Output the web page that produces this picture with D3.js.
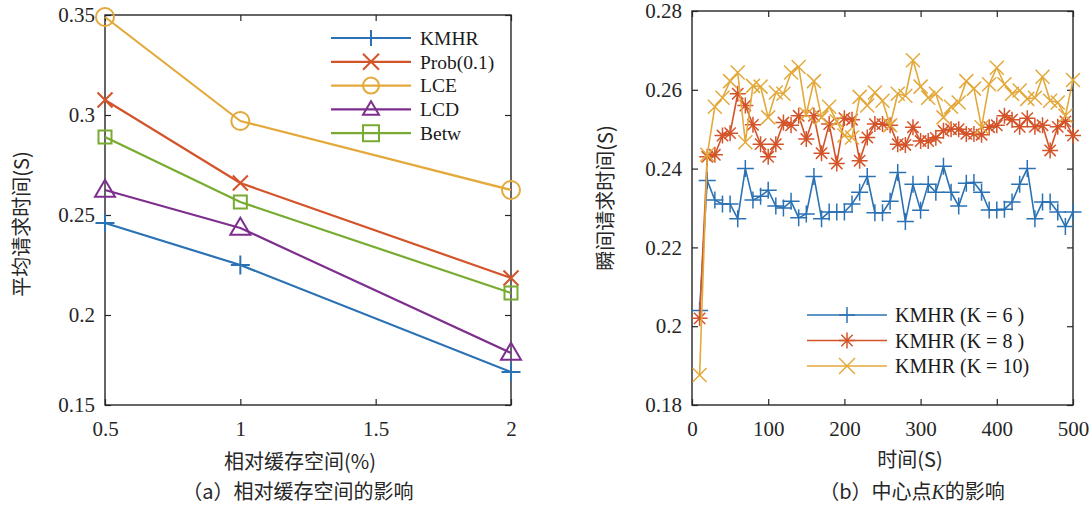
<!DOCTYPE html>
<html>
<head>
<meta charset="utf-8">
<script src="https://cdn.jsdelivr.net/npm/d3@7"></script>
<style>
  body { margin: 0; background: #fff; }
  svg { display: block; }
  .cjk { font-family: "Noto Sans CJK SC", sans-serif; fill: #262626; }
</style>
</head>
<body>
<svg id="fig" width="1090" height="506"></svg>
<script>
// ---- data (a) ----
const cacheSpace = [0.5, 1, 2];
const kmhrA = [0.246, 0.225, 0.1715];
const probA = [0.3075, 0.266, 0.2185];
const lceA  = [0.349, 0.297, 0.2625];
const lcdA  = [0.2625, 0.2435, 0.181];
const betwA = [0.289, 0.2565, 0.211];
const namesA = ["KMHR", "Prob(0.1)", "LCE", "LCD", "Betw"];
const xTicksA = [0.5, 1, 1.5, 2];
const xTickLabelsA = ["0.5", "1", "1.5", "2"];
const yTicksA = [0.155, 0.2, 0.25, 0.3, 0.35];
const yTickLabelsA = ["0.15", "0.2", "0.25", "0.3", "0.35"];

// ---- data (b) ----
const times = [10,20,30,40,50,60,70,80,90,100,110,120,130,140,150,160,170,180,190,200,
  210,220,230,240,250,260,270,280,290,300,310,320,330,340,350,360,370,380,390,400,
  410,420,430,440,450,460,470,480,490,500];
const k6 = [0.204,0.237,0.232,0.231,0.231,0.2273,0.240,0.232,0.233,0.2345,
  0.2305,0.230,0.2317,0.2275,0.2285,0.238,0.2273,0.229,0.229,0.229,
  0.231,0.234,0.238,0.2288,0.2288,0.2317,0.239,0.2266,0.236,0.2294,
  0.236,0.234,0.2406,0.234,0.2305,0.2363,0.2365,0.234,0.2295,0.2295,
  0.2297,0.2315,0.236,0.240,0.2273,0.2315,0.2315,0.229,0.2253,0.229];
const k8 = [0.202,0.243,0.2435,0.2484,0.249,0.259,0.256,0.2511,0.2462,0.243,
  0.2462,0.2517,0.251,0.2534,0.2475,0.2534,0.2439,0.2513,0.2413,0.2528,
  0.2524,0.242,0.2479,0.2513,0.2513,0.251,0.2462,0.246,0.2505,0.247,
  0.247,0.2478,0.2496,0.25,0.25,0.2488,0.2488,0.2486,0.2505,0.251,
  0.2534,0.2524,0.2506,0.2528,0.2506,0.251,0.2446,0.2506,0.252,0.2484];
const k10 = [0.1876,0.2435,0.2557,0.258,0.2622,0.2644,0.2467,0.261,0.2608,0.253,
  0.2593,0.259,0.2644,0.2658,0.2538,0.2622,0.253,0.2557,0.252,0.2484,
  0.2479,0.2582,0.256,0.2593,0.2572,0.251,0.259,0.2585,0.2675,0.2608,
  0.258,0.259,0.253,0.2557,0.2568,0.2622,0.2603,0.2505,0.2614,0.2656,
  0.2614,0.259,0.2598,0.2577,0.258,0.2633,0.2572,0.2568,0.2534,0.2625];
const namesB = ["KMHR (K = 6 )", "KMHR (K = 8 )", "KMHR (K = 10)"];
const xTicksB = [0, 100, 200, 300, 400, 500];
const yTicksB = [0.18, 0.2, 0.22, 0.24, 0.26, 0.28];
const yTickLabelsB = ["0.18", "0.2", "0.22", "0.24", "0.26", "0.28"];

const BLUE = "#2b72b4", ORANGE = "#d4542a", YELLOW = "#e3a93b", PURPLE = "#7e2f8e", GREEN = "#77ac30";
const FRAME = "#262626";
const SERIF = "'Liberation Serif', 'DejaVu Serif', serif";

// marker shapes as path strings, s = full size
const markers = {
  plus: s => `M${-s/2},0H${s/2}M0,${-s/2}V${s/2}`,
  cross: s => `M${-s/2},${-s/2}L${s/2},${s/2}M${-s/2},${s/2}L${s/2},${-s/2}`,
  star: s => { const a = s/2, b = a*0.707; return `M${-a},0H${a}M0,${-a}V${a}M${-b},${-b}L${b},${b}M${-b},${b}L${b},${-b}`; },
  circle: s => d3.symbol(d3.symbolCircle, Math.PI*(s/2)*(s/2))(),
  square: s => `M${-s/2},${-s/2}h${s}v${s}h${-s}Z`,
  triangle: s => { const h = s*0.85; return `M0,${-h*0.6}L${s/2},${h*0.4}L${-s/2},${h*0.4}Z`; }
};

const svg = d3.select("#fig");
svg.append("rect").attr("width", 1090).attr("height", 506).attr("fill", "#fff");

function styleTicks(a, fontSize) {
  a.select(".domain").remove();
  a.attr("font-family", null);
  a.selectAll("text").style("font-family", SERIF).style("font-size", fontSize + "px").attr("fill", "#262626");
}

function frameAxes(g, x, y, xTicks, xLabels, yTicks, yLabels, fontSize) {
  const [x0, x1] = x.range(), [y0, y1] = y.range();
  const tl = 6;
  g.append("g").attr("transform", `translate(0,${y0})`)
    .call(d3.axisBottom(x).tickValues(xTicks).tickSize(-tl).tickPadding(16)
      .tickFormat((d, i) => xLabels[i]))
    .call(a => styleTicks(a, fontSize));
  g.append("g").attr("transform", `translate(0,${y1})`)
    .call(d3.axisTop(x).tickValues(xTicks).tickSize(-tl).tickFormat(""))
    .call(a => a.select(".domain").remove());
  g.append("g").attr("transform", `translate(${x0},0)`)
    .call(d3.axisLeft(y).tickValues(yTicks).tickSize(-tl).tickPadding(10)
      .tickFormat((d, i) => yLabels[i]))
    .call(a => styleTicks(a, fontSize));
  g.append("g").attr("transform", `translate(${x1},0)`)
    .call(d3.axisRight(y).tickValues(yTicks).tickSize(-tl).tickFormat(""))
    .call(a => a.select(".domain").remove());
  g.selectAll(".tick line").attr("stroke", FRAME).attr("stroke-width", 1.2);
  g.append("rect").attr("x", x0).attr("y", y1).attr("width", x1 - x0).attr("height", y0 - y1)
    .attr("fill", "none").attr("stroke", FRAME).attr("stroke-width", 1.4);
}

function drawSeries(g, x, y, xs, ys, color, shape, size, lw, mlw) {
  const line = d3.line().x((d, i) => x(xs[i])).y(d => y(d));
  g.append("path").datum(ys).attr("d", line).attr("fill", "none")
    .attr("stroke", color).attr("stroke-width", lw).attr("stroke-linejoin", "round");
  g.selectAll(null).data(ys).join("path")
    .attr("transform", (d, i) => `translate(${x(xs[i])},${y(d)})`)
    .attr("d", markers[shape](size))
    .attr("fill", "none").attr("stroke", color).attr("stroke-width", mlw);
}

function legend(g, items, x0, x1, xt, y0, dy, fontSize, size, lw, mlw) {
  items.forEach((it, i) => {
    const yy = y0 + i * dy;
    g.append("line").attr("x1", x0).attr("x2", x1).attr("y1", yy).attr("y2", yy)
      .attr("stroke", it.color).attr("stroke-width", lw);
    g.append("path").attr("transform", `translate(${(x0 + x1) / 2},${yy})`)
      .attr("d", markers[it.shape](size)).attr("fill", "none")
      .attr("stroke", it.color).attr("stroke-width", mlw);
    g.append("text").attr("x", xt).attr("y", yy).attr("dy", "0.35em")
      .style("font-family", SERIF).style("font-size", fontSize + "px")
      .attr("fill", "#1a1a1a").text(it.name);
  });
}

// ---- panel (a) ----
const gA = svg.append("g");
const xA = d3.scaleLinear().domain([0.5, 2]).range([105, 511]);
const yA = d3.scaleLinear().domain([0.155, 0.35]).range([405, 15]);
frameAxes(gA, xA, yA, xTicksA, xTickLabelsA, yTicksA, yTickLabelsA, 21);
const seriesA = [
  { name: namesA[0], ys: kmhrA, color: BLUE,   shape: "plus",     size: 19 },
  { name: namesA[1], ys: probA, color: ORANGE, shape: "cross",    size: 15 },
  { name: namesA[2], ys: lceA,  color: YELLOW, shape: "circle",   size: 18 },
  { name: namesA[3], ys: lcdA,  color: PURPLE, shape: "triangle", size: 20 },
  { name: namesA[4], ys: betwA, color: GREEN,  shape: "square",   size: 13 }
];
seriesA.forEach(s => drawSeries(gA, xA, yA, cacheSpace, s.ys, s.color, s.shape, s.size, 2.2, 2));
legend(gA, seriesA, 331, 411, 420, 38, 23.8, 19.5, 16, 2.2, 2);

gA.append("text").attr("class", "cjk").attr("x", 300).attr("y", 469)
  .attr("text-anchor", "middle").style("font-size", "20px").text("相对缓存空间(%)");
gA.append("text").attr("class", "cjk").attr("x", 298).attr("y", 499)
  .attr("text-anchor", "middle").style("font-size", "20px").text("（a）相对缓存空间的影响");
gA.append("text").attr("class", "cjk")
  .attr("transform", "translate(29,224) rotate(-90)")
  .attr("text-anchor", "middle").style("font-size", "20px").text("平均请求时间(S)");

// ---- panel (b) ----
const gB = svg.append("g");
const xB = d3.scaleLinear().domain([0, 500]).range([692, 1073]);
const yB = d3.scaleLinear().domain([0.18, 0.28]).range([405, 11]);
frameAxes(gB, xB, yB, xTicksB, xTicksB.map(String), yTicksB, yTickLabelsB, 21);
const seriesB = [
  { name: namesB[0], ys: k6,  color: BLUE,   shape: "plus",  size: 17 },
  { name: namesB[1], ys: k8,  color: ORANGE, shape: "star",  size: 16 },
  { name: namesB[2], ys: k10, color: YELLOW, shape: "cross", size: 14 }
];
seriesB.forEach(s => drawSeries(gB, xB, yB, times, s.ys, s.color, s.shape, s.size, 1.6, 1.5));
legend(gB, seriesB, 807, 887, 895, 315, 25.5, 20, 16, 1.6, 1.5);

gB.append("text").attr("class", "cjk").attr("x", 910).attr("y", 467)
  .attr("text-anchor", "middle").style("font-size", "20px").text("时间(S)");
const capB = gB.append("text").attr("class", "cjk").attr("x", 912).attr("y", 499)
  .attr("text-anchor", "middle").style("font-size", "20px");
capB.append("tspan").text("（b）中心点");
capB.append("tspan").style("font-family", SERIF).style("font-style", "italic").text("K");
capB.append("tspan").text("的影响");
gB.append("text").attr("class", "cjk")
  .attr("transform", "translate(613,198) rotate(-90)")
  .attr("text-anchor", "middle").style("font-size", "20px").text("瞬间请求时间(S)");
</script>
</body>
</html>
